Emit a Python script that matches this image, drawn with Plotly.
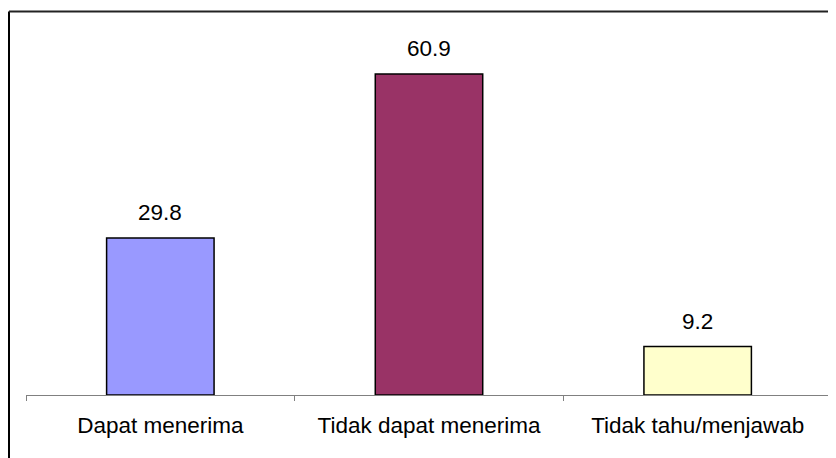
import plotly.graph_objects as go

categories = ["Dapat menerima", "Tidak dapat menerima", "Tidak tahu/menjawab"]
values = [29.8, 60.9, 9.2]
value_labels = ["29.8", "60.9", "9.2"]
bar_colors = ["#9999FF", "#993366", "#FFFFCC"]

W, H = 836, 458
L, R, T, B = 18, 12, 18, 71
pw, ph = W - L - R, H - T - B

fig = go.Figure()
fig.add_trace(go.Bar(
    x=categories, y=values,
    marker=dict(color=bar_colors, line=dict(color="#000000", width=1.5)),
    hoverinfo="skip",
))

for c, v, t in zip(categories, values, value_labels):
    fig.add_annotation(x=c, y=v, text=t, showarrow=False, yanchor="bottom",
                       yshift=11, font=dict(size=22.5, color="#000000"))

# outer frame (left and top edges visible)
fx = (1 - L) / pw
fy = 1 + (T - 3.5) / ph
fig.add_shape(type="line", xref="paper", yref="paper", x0=fx, x1=fx, y0=fy, y1=-0.5,
              line=dict(color="#000000", width=2))
fig.add_shape(type="line", xref="paper", yref="paper", x0=fx, x1=1.5, y0=fy, y1=fy,
              line=dict(color="#222222", width=2))

fig.update_layout(
    width=W, height=H,
    margin=dict(l=L, r=R, t=T, b=B),
    paper_bgcolor="white", plot_bgcolor="white",
    font=dict(family="Liberation Sans, Arial, sans-serif", size=22.5, color="#000000"),
    bargap=0.6,
    showlegend=False,
    xaxis=dict(showline=True, linecolor="#808080", linewidth=1,
               ticks="outside", tickson="boundaries", ticklen=5, tickcolor="#808080",
               tickfont=dict(size=22.5, color="#000000"), ticklabelstandoff=10,
               showgrid=False, zeroline=False),
    yaxis=dict(range=[0, 70], visible=False, showgrid=False, zeroline=False),
)

fig.write_html("out.html")
